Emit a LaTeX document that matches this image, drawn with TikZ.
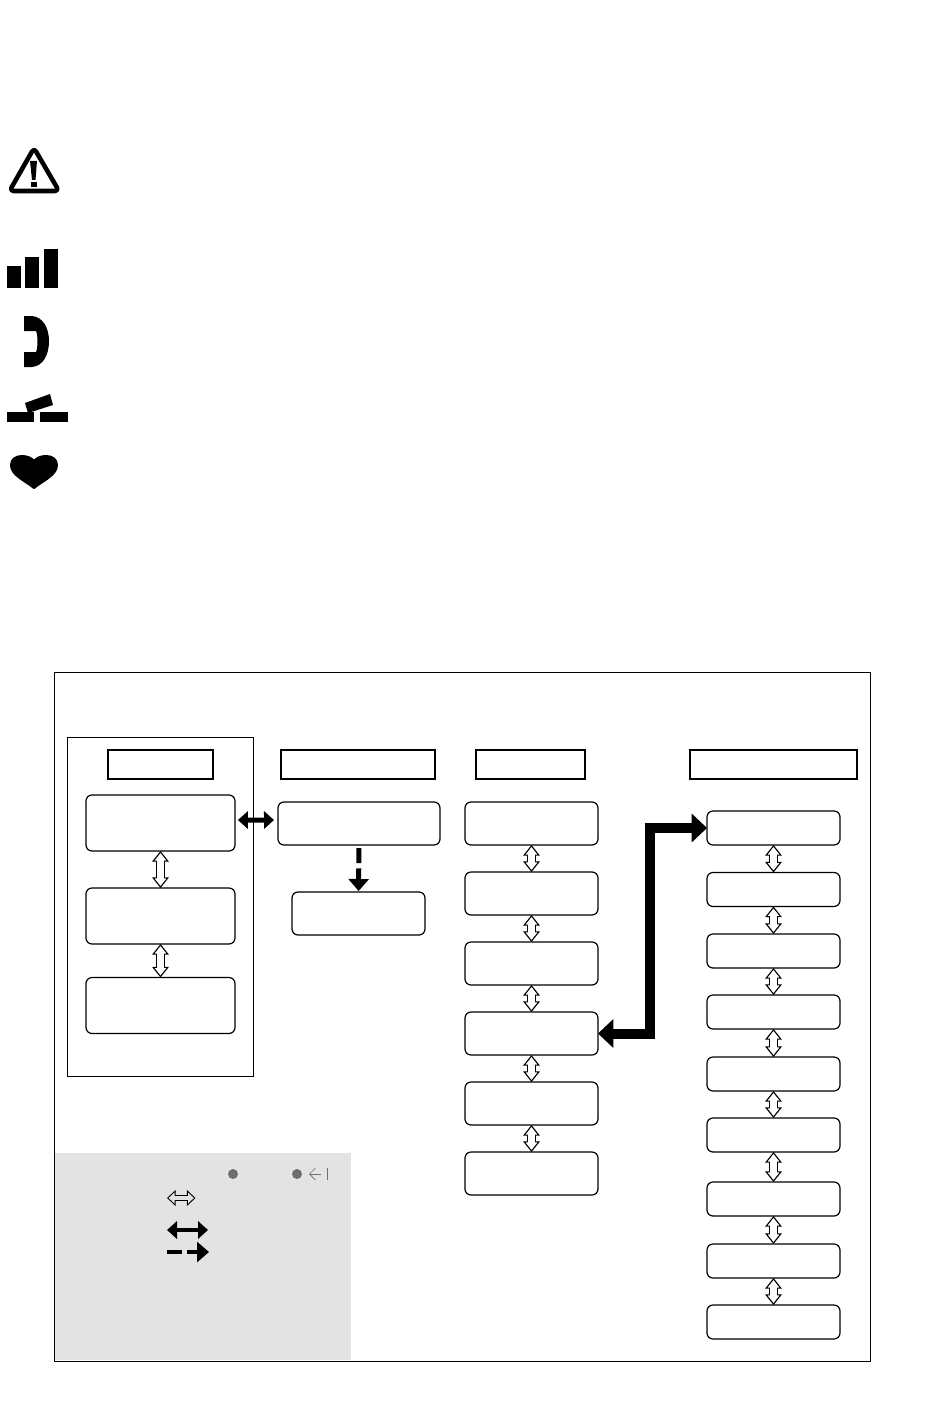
\documentclass[tikz,border=0pt]{standalone}
\usetikzlibrary{arrows.meta}
\definecolor{legendgray}{HTML}{E3E3E3}
\definecolor{dotgray}{HTML}{6E6E6E}
\tikzset{
    framebox/.style={draw=black, line width=.75pt, inner sep=0pt, outer sep=0pt},
    headbox/.style={draw=black, line width=1.3pt, inner sep=0pt, outer sep=0pt},
    menubox/.style={draw=black, line width=.9pt, rounded corners=4.5pt, fill=white, inner sep=0pt, outer sep=0pt, minimum width=#1},
    menubox/.default=99.75pt,
    hollowtip/.tip={Triangle[open, fill=white, line width=.85pt, length=8pt, width=12.5pt]},
    hollowarrow/.style={draw=black, line width=6.7pt, {hollowtip}-{hollowtip},
        postaction={draw=white, line width=5pt, -, shorten <=6.8pt, shorten >=6.8pt}},
    keytip/.tip={Triangle[open, fill=legendgray, line width=.7pt, length=6.5pt, width=12pt]},
    keyarrow/.style={draw=black, line width=4.9pt, {keytip}-{keytip},
        postaction={draw=legendgray, line width=3.5pt, -, shorten <=5.5pt, shorten >=5.5pt}},
    solidarrow/.style={draw=black, line width=3.75pt, {Triangle[length=7.5pt, width=13pt]}-{Triangle[length=7.5pt, width=13pt]}},
    dasharrow/.style={draw=black, line width=3.75pt, -{Triangle[length=9pt, width=15pt]}},
    bigarrow/.style={draw=black, line width=7.5pt, miter limit=10, {Triangle[length=11.5pt, width=21pt]}-{Triangle[length=11.5pt, width=21pt]}},
    icon/.style={fill=black, draw=none}
}
\begin{document}
\begin{tikzpicture}[x=.75pt, y=-.75pt]
    \useasboundingbox (0,0) rectangle (950,1402);

    % icons
    \draw[black, line width=3.4pt, line join=round, rounded corners=3pt] (34,148) -- (59,191) -- (9.5,191) -- cycle;
    \fill[icon] (30,161) -- (37,161) -- (35.5,180) -- (32,180) -- cycle;
    \fill[icon] (31,182) rectangle (37,186.5);
    \fill[icon] (7,266) rectangle (21,288);
    \fill[icon] (25,257) rectangle (39,288);
    \fill[icon] (44,249) rectangle (58,288);
    \fill[icon] (24,316) -- (32,316) .. controls (43,317) and (49,328) .. (49,341) .. controls (49,355) and (43,366) .. (32,367) -- (24,367) -- (24,352) -- (36,352) .. controls (38,348) and (38,335) .. (36,331) -- (24,331) -- cycle;
    \fill[icon] (7,412) rectangle (34,422);
    \fill[icon] (40,412) rectangle (68,422);
    \fill[icon] (25,403) -- (50,394) -- (53,405) -- (28,413) -- cycle;
    \draw[black, fill=black, line width=1.5pt, line join=round] (34,488) .. controls (24,480) and (11,475) .. (11,465) .. controls (11,459) and (16,456) .. (22,456) .. controls (27,456) and (32,458) .. (34,461) .. controls (36,458) and (41,456) .. (46,456) .. controls (52,456) and (57,459) .. (57,465) .. controls (57,475) and (44,480) .. (34,488) -- cycle;

    % frames
    \draw[framebox] (54,672) rectangle (870,1361);
    \fill[legendgray] (55,1153) rectangle (351,1360);
    \draw[framebox] (67,737) rectangle (253,1076);
    \node[headbox, minimum width=78.75pt, minimum height=21.75pt] (headA) at (160.5,764.5) {};
    \node[headbox, minimum width=115.5pt, minimum height=21.75pt] (headB) at (358,764.5) {};
    \node[headbox, minimum width=81.75pt, minimum height=21.75pt] (headC) at (530.5,764.5) {};
    \node[headbox, minimum width=125.25pt, minimum height=21.75pt] (headD) at (773.5,764.5) {};

    % first column
    \node[menubox=111.75pt, minimum height=42pt] (boxA1) at (160.5,823) {};
    \node[menubox=111.75pt, minimum height=42pt] (boxA2) at (160.5,916) {};
    \node[menubox=111.75pt, minimum height=42pt] (boxA3) at (160.5,1005.5) {};
    \draw[hollowarrow] (boxA1) -- (boxA2);
    \draw[hollowarrow] (boxA2) -- (boxA3);

    % second column
    \node[menubox=121.5pt, minimum height=32.25pt] (boxB1) at (359,823.5) {};
    \node[menubox, minimum height=32.25pt] (boxB2) at (358.5,913.5) {};
    \draw[solidarrow, shorten <=2.2pt, shorten >=3pt] ([yshift=2.2pt]boxA1.east) -- ([yshift=2.6pt]boxB1.west);
    \draw[dasharrow, dash pattern=on 11.25pt off 4pt on 20pt, shorten <=2.25pt, shorten >=.75pt] (boxB1) -- (boxB2);

    % third column
    \foreach \row/\ypos in {1/823.5, 2/893.5, 3/963.5, 4/1033.5, 5/1103.5, 6/1173.5}
        \node[menubox, minimum height=32.25pt] (boxC\row) at (531.5,\ypos) {};
    \foreach \row/\nxt in {1/2, 2/3, 3/4, 4/5, 5/6}
        \draw[hollowarrow] (boxC\row) -- (boxC\nxt);

    % fourth column
    \foreach \row/\ypos in {1/828, 2/889.5, 3/951, 4/1012, 5/1074, 6/1135, 7/1199, 8/1261, 9/1322}
        \node[menubox, minimum height=25.5pt] (boxD\row) at (773.5,\ypos) {};
    \foreach \row/\nxt in {1/2, 2/3, 3/4, 4/5, 5/6, 6/7, 7/8, 8/9}
        \draw[hollowarrow] (boxD\row) -- (boxD\nxt);

    \coordinate (bendLow) at (649.5,1033.5);
    \coordinate (bendTop) at (649.5,828);
    \draw[bigarrow] (boxC4.east) -- (bendLow) -- (bendTop) -- (boxD1.west);

    % legend
    \fill[dotgray] (233,1174) circle (3.75pt);
    \fill[dotgray] (297,1174) circle (3.75pt);
    \coordinate (backTip) at (309,1174);
    \coordinate (backEnd) at (321,1174);
    \draw[dotgray, line width=.5pt, {Straight Barb[length=4.5pt, width=9pt]}-] (backTip) -- (backEnd);
    \draw[dotgray, line width=.6pt] (327,1168) -- (327,1180);
    \coordinate (keyHollowL) at (167,1198);
    \coordinate (keyHollowR) at (195.5,1198);
    \draw[keyarrow] (keyHollowL) -- (keyHollowR);
    \coordinate (keySolidL) at (167,1230);
    \coordinate (keySolidR) at (208,1230);
    \draw[solidarrow, line width=3.5pt] (keySolidL) -- (keySolidR);
    \coordinate (keyDashL) at (167,1252);
    \coordinate (keyDashR) at (209,1252);
    \draw[dasharrow, line width=3.5pt, dash pattern=on 11.25pt off 4pt on 20pt] (keyDashL) -- (keyDashR);
\end{tikzpicture}
\end{document}
